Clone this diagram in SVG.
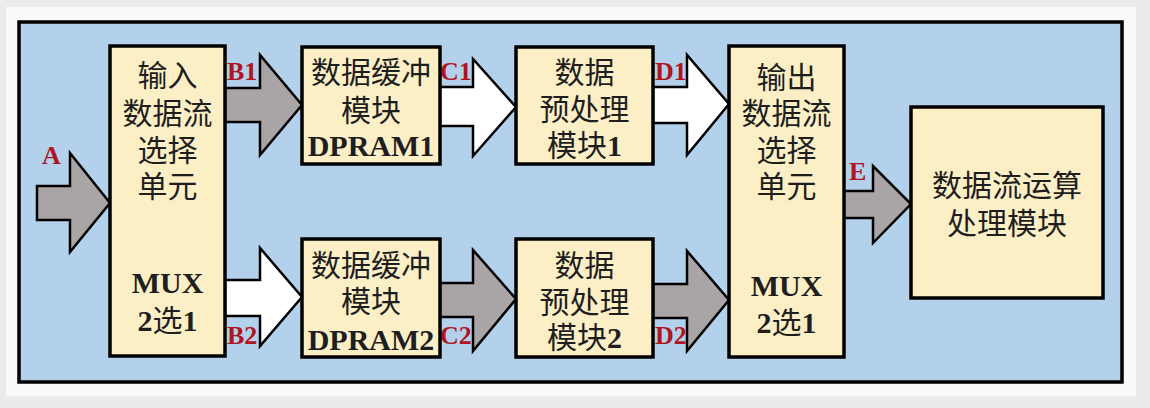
<svg xmlns="http://www.w3.org/2000/svg" width="1150" height="408" viewBox="0 0 1150 408">
<style>
.box{fill:#fcefc6;stroke:#000;stroke-width:3.5}
.ag{fill:#a9a5a7;stroke:#000;stroke-width:2.5;stroke-linejoin:miter}
.aw{fill:#ffffff;stroke:#000;stroke-width:2.5;stroke-linejoin:miter}
.t{font-family:"Liberation Serif","Noto Sans CJK SC",serif;font-size:30px;fill:#1e1e1e;text-anchor:middle}
.b{font-weight:bold}
.lab{font-family:"Liberation Serif",serif;font-size:26px;font-weight:bold;fill:#b0141e}
</style>
<rect x="0" y="0" width="1150" height="408" fill="#ebebeb"/>
<rect x="6" y="7" width="1130" height="389" fill="#fafafa"/>
<rect id="panel" x="19" y="22" width="1103" height="360" fill="#b3d1ea" stroke="#000" stroke-width="3.5"/>
<g id="connectors">
<polygon class="ag" points="37,186 70,186 70,153 110,203 70,252 70,220 37,220"/>
<polygon class="ag" points="225,88 260,88 260,55 302,105 260,155 260,122 225,122"/>
<polygon class="aw" points="225,280 260,280 260,248 302,297 260,346 260,316 225,316"/>
<polygon class="aw" points="440,87 473,87 473,59 516,107 473,156 473,126 440,126"/>
<polygon class="ag" points="440,283 473,283 473,250 516,299 473,351 473,317 440,317"/>
<polygon class="aw" points="653,87 687,87 687,55 729,104 687,155 687,123 653,123"/>
<polygon class="ag" points="653,284 687,284 687,251 729,300 687,351 687,318 653,318"/>
<polygon class="ag" points="843,191 873,191 873,166 911,204 873,243 873,218 843,218"/>
<text class="lab" x="42" y="164">A</text>
<text class="lab" x="227" y="80">B1</text>
<text class="lab" x="227" y="344">B2</text>
<text class="lab" x="440" y="80">C1</text>
<text class="lab" x="440" y="344">C2</text>
<text class="lab" x="655" y="80">D1</text>
<text class="lab" x="655" y="344">D2</text>
<text class="lab" x="849" y="180">E</text>
</g>
<g id="mux_in">
<rect class="box" x="110" y="46" width="115" height="310"/>
<text class="t" x="167.5" y="86">输入</text>
<text class="t" x="167.5" y="124">数据流</text>
<text class="t" x="167.5" y="161">选择</text>
<text class="t" x="167.5" y="197">单元</text>
<text class="t b" x="167.5" y="293">MUX</text>
<text class="t" x="167.5" y="331"><tspan class="b">2</tspan>选<tspan class="b">1</tspan></text>
</g>
<g id="dpram1">
<rect class="box" x="302" y="47" width="138" height="117"/>
<text class="t" x="371" y="83">数据缓冲</text>
<text class="t" x="371" y="121">模块</text>
<text class="t b" x="371" y="156">DPRAM1</text>
</g>
<g id="dpram2">
<rect class="box" x="302" y="239" width="138" height="118"/>
<text class="t" x="371" y="276">数据缓冲</text>
<text class="t" x="371" y="312">模块</text>
<text class="t b" x="371" y="350">DPRAM2</text>
</g>
<g id="pre1">
<rect class="box" x="516" y="47" width="137" height="117"/>
<text class="t" x="584.5" y="83">数据</text>
<text class="t" x="584.5" y="120">预处理</text>
<text class="t" x="584.5" y="156">模块<tspan class="b">1</tspan></text>
</g>
<g id="pre2">
<rect class="box" x="516" y="239" width="137" height="118"/>
<text class="t" x="584.5" y="276">数据</text>
<text class="t" x="584.5" y="313">预处理</text>
<text class="t" x="584.5" y="348">模块<tspan class="b">2</tspan></text>
</g>
<g id="mux_out">
<rect class="box" x="729" y="46" width="115" height="311"/>
<text class="t" x="786.5" y="88">输出</text>
<text class="t" x="786.5" y="124">数据流</text>
<text class="t" x="786.5" y="161">选择</text>
<text class="t" x="786.5" y="197">单元</text>
<text class="t b" x="786.5" y="296">MUX</text>
<text class="t" x="786.5" y="333"><tspan class="b">2</tspan>选<tspan class="b">1</tspan></text>
</g>
<g id="compute">
<rect class="box" x="911" y="107" width="192" height="191"/>
<text class="t" x="1007" y="196">数据流运算</text>
<text class="t" x="1007" y="234">处理模块</text>
</g>
</svg>
